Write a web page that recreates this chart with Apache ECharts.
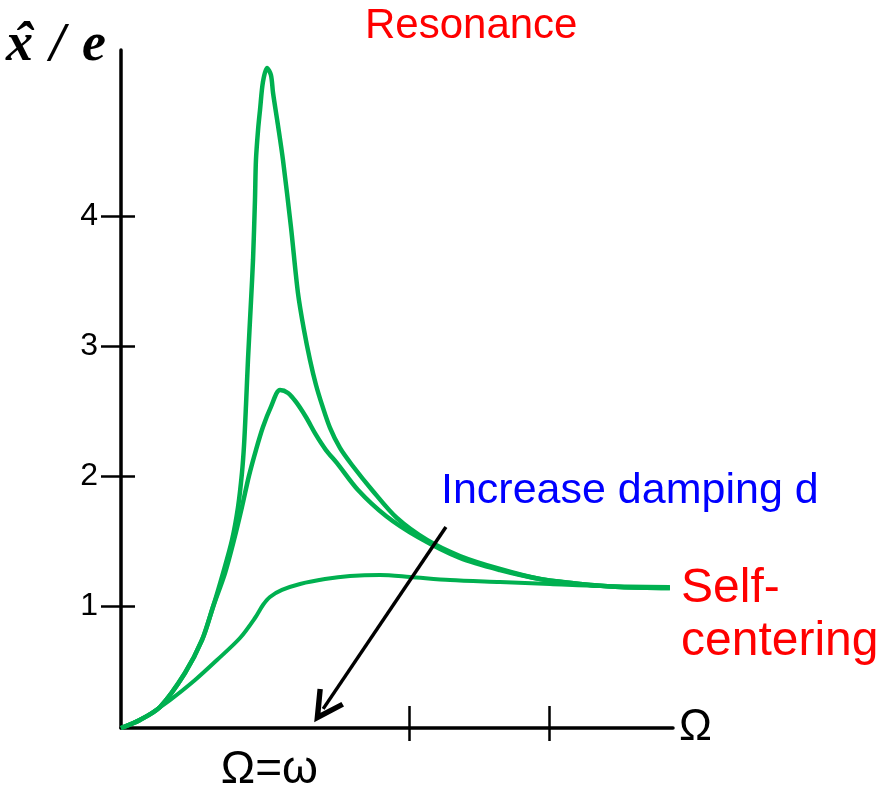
<!DOCTYPE html>
<html><head><meta charset="utf-8">
<script src="https://cdn.jsdelivr.net/npm/echarts@6/dist/echarts.min.js"></script>
<style>html,body{margin:0;padding:0;background:#fff}#c{width:884px;height:793px}</style>
</head><body><div id="c"></div>
<script>
// Amplitude ratio x̂/e versus excitation frequency Ω (Ω=ω marks resonance)
const lowDamping = [[-0.06,0.06],[0.076,0.122],[0.219,0.222],[0.397,0.483],[0.519,0.737],[0.597,0.991],[0.669,1.252],[0.733,1.506],[0.776,1.76],[0.804,2.022],[0.819,2.237],[0.833,2.545],[0.847,2.891],[0.869,3.352],[0.883,3.66],[0.897,4.122],[0.904,4.429],[0.919,4.66],[0.933,4.814],[0.954,5.029],[0.983,5.137],[1.011,5.083],[1.026,4.945],[1.061,4.698],[1.097,4.429],[1.154,3.914],[1.204,3.406],[1.247,3.122],[1.29,2.891],[1.333,2.698],[1.376,2.545],[1.433,2.368],[1.504,2.214],[1.59,2.083],[1.733,1.891],[1.911,1.675],[2.126,1.506],[2.361,1.383],[2.647,1.283],[2.933,1.206],[3.219,1.168],[3.504,1.145],[3.861,1.137]];
const midDamping = [[-0.06,0.06],[0.076,0.122],[0.219,0.222],[0.397,0.483],[0.519,0.737],[0.597,0.991],[0.683,1.252],[0.747,1.506],[0.804,1.76],[0.854,1.999],[0.904,2.198],[0.954,2.375],[1.011,2.53],[1.076,2.66],[1.133,2.637],[1.19,2.568],[1.261,2.452],[1.333,2.314],[1.404,2.198],[1.483,2.098],[1.633,1.891],[1.833,1.691],[2.061,1.529],[2.361,1.368],[2.647,1.275],[2.933,1.206],[3.219,1.168],[3.504,1.145],[3.861,1.137]];
const highDamping = [[-0.06,0.06],[0.111,0.145],[0.29,0.275],[0.469,0.429],[0.626,0.583],[0.79,0.752],[0.897,0.906],[0.954,1.006],[1.004,1.068],[1.09,1.122],[1.219,1.168],[1.397,1.206],[1.576,1.229],[1.79,1.237],[2.004,1.222],[2.29,1.198],[2.647,1.183],[3.004,1.168],[3.361,1.152],[3.861,1.145]];
const yTickValues = [1, 2, 3, 4];
const xTickValues = [2, 3];
const xLabelValues = [1];
const xLabelText = 'Ω=ω';
const xAxisName = 'Ω';
const arrowFrom = [2.261, 1.606];
const arrowTo = [1.384, 0.207];

const X_MIN = -0.06, X_MAX = 3.883, Y_MIN = 0.06, Y_MAX = 5.275;
const SANS = '"Liberation Sans", Arial, sans-serif';
const GREEN = '#00B050';
const chevron = 'path://M12,0 L22.3,19.4 L19.2,21 L12,7.5 L4.8,21 L1.7,19.4 Z';

function txt(text, x, y, size, color, extra) {
  const font = (extra && extra.font) || (size + 'px ' + SANS);
  const align = (extra && extra.align) || 'left';
  return { type: 'text', x: x, y: y, silent: true, z: 100,
    style: { text: text, font: font, fill: color, align: align, textAlign: align,
      verticalAlign: 'middle', textVerticalAlign: 'middle' } };
}
const SERIF = 'italic bold 54px "Liberation Serif", "Times New Roman", serif';

const chart = echarts.init(document.getElementById('c'), null, { renderer: 'canvas' });
chart.setOption({
  animation: false,
  backgroundColor: '#fff',
  grid: { left: 121, right: 211, top: 50, bottom: 65, containLabel: false, outerBoundsMode: 'none' },
  xAxis: [
    { type: 'value', min: X_MIN, max: X_MAX, position: 'bottom',
      axisLine: { show: true, onZero: false, lineStyle: { color: '#000', width: 3.5 } },
      axisTick: { show: true, customValues: xTickValues, length: 13, inside: false, lineStyle: { color: '#000', width: 2.5 } },
      axisLabel: { show: true, customValues: xLabelValues, formatter: function () { return xLabelText; },
        fontSize: 46, fontFamily: SANS, color: '#000', margin: 42, verticalAlign: 'middle' },
      splitLine: { show: false },
      name: xAxisName, nameLocation: 'end', nameGap: 6,
      nameTextStyle: { fontSize: 44, fontFamily: SANS, color: '#000', verticalAlign: 'middle' } },
    { type: 'value', min: X_MIN, max: X_MAX, position: 'bottom',
      axisLine: { show: false, onZero: false },
      axisTick: { show: true, customValues: xTickValues, length: 22, inside: true, lineStyle: { color: '#000', width: 2.5 } },
      axisLabel: { show: false }, splitLine: { show: false } }
  ],
  yAxis: [
    { type: 'value', min: Y_MIN, max: Y_MAX, position: 'left',
      axisLine: { show: true, onZero: false, lineStyle: { color: '#000', width: 3.5 } },
      axisTick: { show: true, customValues: yTickValues, length: 20, inside: false, lineStyle: { color: '#000', width: 2.5 } },
      axisLabel: { show: true, customValues: yTickValues, fontSize: 32, fontFamily: SANS, color: '#000', margin: 23, verticalAlign: 'middle' },
      splitLine: { show: false } },
    { type: 'value', min: Y_MIN, max: Y_MAX, position: 'left',
      axisLine: { show: false, onZero: false },
      axisTick: { show: true, customValues: yTickValues, length: 14, inside: true, lineStyle: { color: '#000', width: 2.5 } },
      axisLabel: { show: false }, splitLine: { show: false } }
  ],
  series: [
    { name: 'low damping', type: 'line', data: lowDamping, showSymbol: false, smooth: 0.3, silent: true,
      lineStyle: { color: GREEN, width: 4.5 }, itemStyle: { color: GREEN }, z: 3 },
    { name: 'medium damping', type: 'line', data: midDamping, showSymbol: false, smooth: 0.3, silent: true,
      lineStyle: { color: GREEN, width: 4.5 }, itemStyle: { color: GREEN }, z: 3 },
    { name: 'high damping', type: 'line', data: highDamping, showSymbol: false, smooth: 0.3, silent: true,
      lineStyle: { color: GREEN, width: 4 }, itemStyle: { color: GREEN }, z: 3,
      markLine: { silent: true, symbol: ['none', chevron], symbolSize: [32, 32],
        label: { show: false }, emphasis: { disabled: true },
        lineStyle: { color: '#000', width: 3.5, type: 'solid' },
        data: [[{ coord: arrowFrom }, { coord: arrowTo }]] } }
  ],
  graphic: [
    txt('Resonance', 365, 26, 42, '#FF0000'),
    txt('Increase damping d', 441, 491, 43, '#0000FF'),
    txt('Self-', 681, 589, 48, '#FF0000'),
    txt('centering', 681, 642, 48, '#FF0000'),
    txt('x', 6, 46, 54, '#000', { font: SERIF }),
    txt('ˆ', 23, 46, 54, '#000', { font: SERIF, align: 'center' }),
    txt('/', 50, 46, 54, '#000', { font: SERIF }),
    txt('e', 82, 46, 54, '#000', { font: SERIF })
  ]
});
</script></body></html>
